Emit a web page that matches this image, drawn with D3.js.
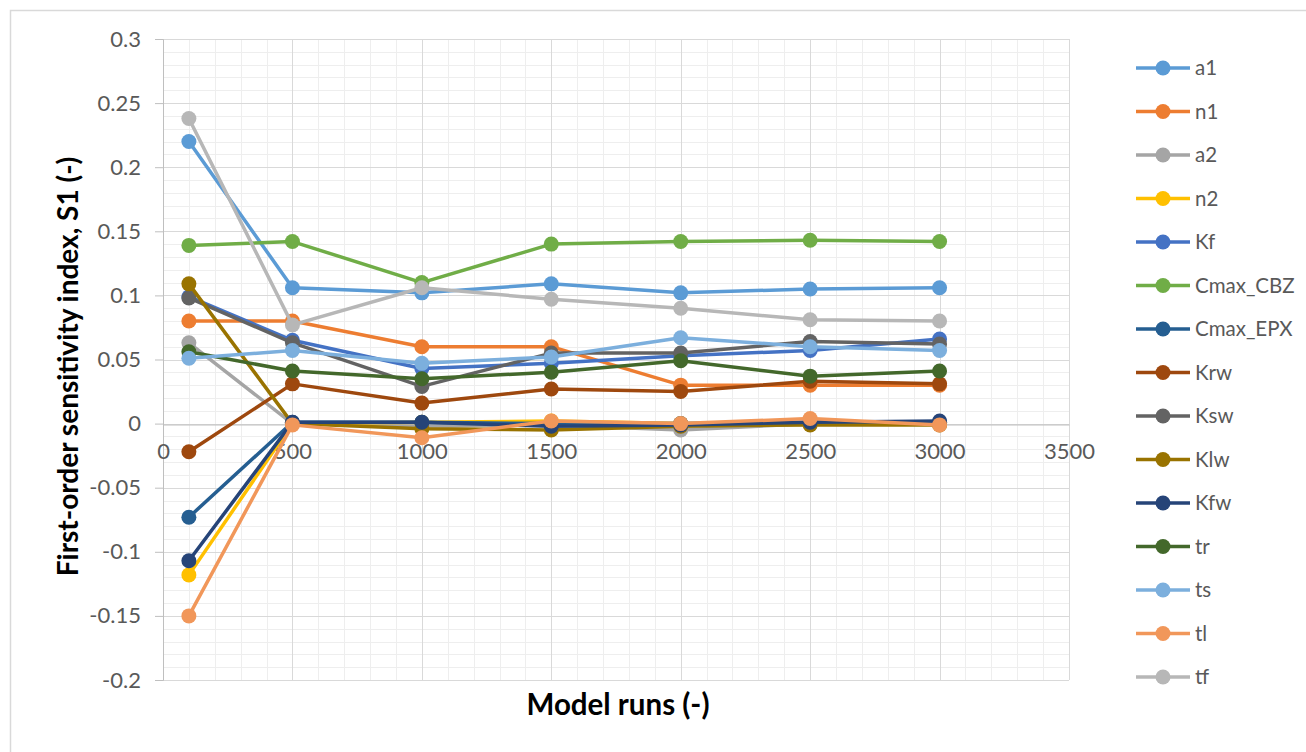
<!DOCTYPE html>
<html>
<head>
<meta charset="utf-8">
<script src="https://cdn.jsdelivr.net/npm/d3@7"></script>
<style>
  body { margin: 0; background: #fff; }
  text { font-family: Lato, "Open Sans", sans-serif; }
</style>
</head>
<body>
<div id="chart"></div>
<script>
// model runs on the x axis
const runs = [100, 500, 1000, 1500, 2000, 2500, 3000];

// series names, in legend order
const names = ["a1", "n1", "a2", "n2", "Kf", "Cmax_CBZ", "Cmax_EPX", "Krw", "Ksw", "Klw", "Kfw", "tr", "ts", "tl", "tf"];

// first-order index S1 for each series
const a1 = [0.220, 0.106, 0.102, 0.109, 0.102, 0.105, 0.106];
const n1 = [0.080, 0.080, 0.060, 0.060, 0.030, 0.030, 0.030];
const a2 = [0.063, 0.000, -0.002, -0.001, -0.005, 0.000, 0.001];
const n2 = [-0.118, 0.000, 0.001, 0.002, 0.000, 0.000, 0.000];
const Kf = [0.099, 0.065, 0.043, 0.047, 0.053, 0.057, 0.066];
const Cmax_CBZ = [0.139, 0.142, 0.110, 0.140, 0.142, 0.143, 0.142];
const Cmax_EPX = [-0.073, 0.001, 0.001, 0.000, 0.000, 0.001, 0.001];
const Krw = [-0.022, 0.031, 0.016, 0.027, 0.025, 0.033, 0.031];
const Ksw = [0.098, 0.063, 0.029, 0.055, 0.055, 0.064, 0.062];
const Klw = [0.109, 0.000, -0.004, -0.005, -0.002, -0.001, -0.001];
const Kfw = [-0.107, 0.001, 0.001, -0.002, -0.001, 0.001, 0.002];
const tr = [0.056, 0.041, 0.035, 0.040, 0.049, 0.037, 0.041];
const ts = [0.051, 0.057, 0.047, 0.052, 0.067, 0.060, 0.057];
const tl = [-0.150, -0.001, -0.011, 0.002, 0.000, 0.004, -0.001];
const tf = [0.238, 0.077, 0.106, 0.097, 0.090, 0.081, 0.080];

const colors = ["#5B9BD5", "#ED7D31", "#A5A5A5", "#FFC000", "#4472C4", "#70AD47", "#255E91",
  "#9E480E", "#636363", "#997300", "#264478", "#43682B", "#7CAFDD", "#F1975A", "#B7B7B7"];

const values = [a1, n1, a2, n2, Kf, Cmax_CBZ, Cmax_EPX, Krw, Ksw, Klw, Kfw, tr, ts, tl, tf];
const series = names.map((n, i) => ({
  name: n,
  color: colors[i],
  points: runs.map((r, j) => ({ x: r, y: values[i][j] }))
}));

const W = 1306, H = 752;
const margin = { top: 39, right: 237, bottom: 72, left: 163 };
const width = W - margin.left - margin.right;
const height = H - margin.top - margin.bottom;

const svg = d3.select("#chart").append("svg")
  .attr("width", W).attr("height", H);

svg.append("rect").attr("width", W).attr("height", H).attr("fill", "#fff");
// chart frame
svg.append("rect")
  .attr("x", 10.5).attr("y", 10.5)
  .attr("width", W).attr("height", H)
  .attr("fill", "none").attr("stroke", "#d9d9d9").attr("stroke-width", 1.5);

const g = svg.append("g").attr("transform", `translate(${margin.left},${margin.top})`);

const x = d3.scaleLinear().domain([0, 3500]).range([0, width]);
const y = d3.scaleLinear().domain([-0.2, 0.3]).range([height, 0]);

// minor grid
g.append("g").selectAll("line")
  .data(d3.range(-0.2, 0.3001, 0.01))
  .join("line")
  .attr("x1", 0).attr("x2", width)
  .attr("y1", d => Math.round(y(d)) + 0.5).attr("y2", d => Math.round(y(d)) + 0.5)
  .attr("stroke", "#eeeeee");
g.append("g").selectAll("line")
  .data(d3.range(0, 3501, 100))
  .join("line")
  .attr("y1", 0).attr("y2", height)
  .attr("x1", d => Math.round(x(d)) + 0.5).attr("x2", d => Math.round(x(d)) + 0.5)
  .attr("stroke", "#eeeeee");

// major grid
const yTicks = d3.range(-0.2, 0.3001, 0.05);
const xTicks = d3.range(0, 3501, 500);
g.append("g").selectAll("line")
  .data(yTicks)
  .join("line")
  .attr("x1", 0).attr("x2", width)
  .attr("y1", d => Math.round(y(d)) + 0.5).attr("y2", d => Math.round(y(d)) + 0.5)
  .attr("stroke", "#d9d9d9");
g.append("g").selectAll("line")
  .data(xTicks)
  .join("line")
  .attr("y1", 0).attr("y2", height)
  .attr("x1", d => Math.round(x(d)) + 0.5).attr("x2", d => Math.round(x(d)) + 0.5)
  .attr("stroke", "#d9d9d9");

// y axis
const yAxis = g.append("g")
  .call(d3.axisLeft(y).tickValues(yTicks).tickSize(8).tickPadding(14)
    .tickFormat(d => String(+d.toFixed(2))));
yAxis.select(".domain").attr("stroke", "#bfbfbf");
yAxis.selectAll(".tick line").attr("stroke", "#bfbfbf");
yAxis.selectAll(".tick text")
  .attr("fill", "#595959").attr("font-size", 22);

// x axis sits on y = 0, labels just below it
const xAxis = g.append("g")
  .attr("transform", `translate(0,${Math.round(y(0)) + 0.5})`)
  .call(d3.axisBottom(x).tickValues(xTicks).tickSize(0).tickPadding(19)
    .tickFormat(d3.format("d")));
xAxis.select(".domain").attr("stroke", "#bfbfbf");
xAxis.selectAll(".tick text")
  .attr("fill", "#595959").attr("font-size", 22);

// axis titles
svg.append("text")
  .attr("x", margin.left + width / 2 + 2).attr("y", 715)
  .attr("text-anchor", "middle")
  .attr("font-size", 29.5).attr("font-weight", "bold").attr("fill", "#000")
  .text("Model runs (-)");
svg.append("text")
  .attr("transform", `translate(78,${margin.top + height / 2 + 7}) rotate(-90)`)
  .attr("text-anchor", "middle")
  .attr("font-size", 28).attr("font-weight", "bold").attr("fill", "#000")
  .text("First-order sensitivity index, S1 (-)");

// lines and markers
const line = d3.line().x(d => x(d.x)).y(d => y(d.y));
const sg = g.selectAll(".series").data(series).join("g").attr("class", "series");
sg.append("path")
  .attr("d", d => line(d.points))
  .attr("fill", "none")
  .attr("stroke", d => d.color)
  .attr("stroke-width", 3.5)
  .attr("stroke-linejoin", "round");
sg.selectAll("circle")
  .data(d => d.points.map(p => ({ ...p, color: d.color })))
  .join("circle")
  .attr("cx", d => x(d.x)).attr("cy", d => y(d.y))
  .attr("r", 7.5)
  .attr("fill", d => d.color);

// legend
const legend = svg.append("g").attr("transform", "translate(1136,68)");
const li = legend.selectAll("g").data(series).join("g")
  .attr("transform", (d, i) => `translate(0,${i * 43.5})`);
li.append("line")
  .attr("x1", 0).attr("x2", 54)
  .attr("stroke", d => d.color).attr("stroke-width", 3.5);
li.append("circle")
  .attr("cx", 27).attr("r", 7.5)
  .attr("fill", d => d.color);
li.append("text")
  .attr("x", 59).attr("dy", "0.35em")
  .attr("font-size", 20.5).attr("fill", "#595959")
  .text(d => d.name);
</script>
</body>
</html>
